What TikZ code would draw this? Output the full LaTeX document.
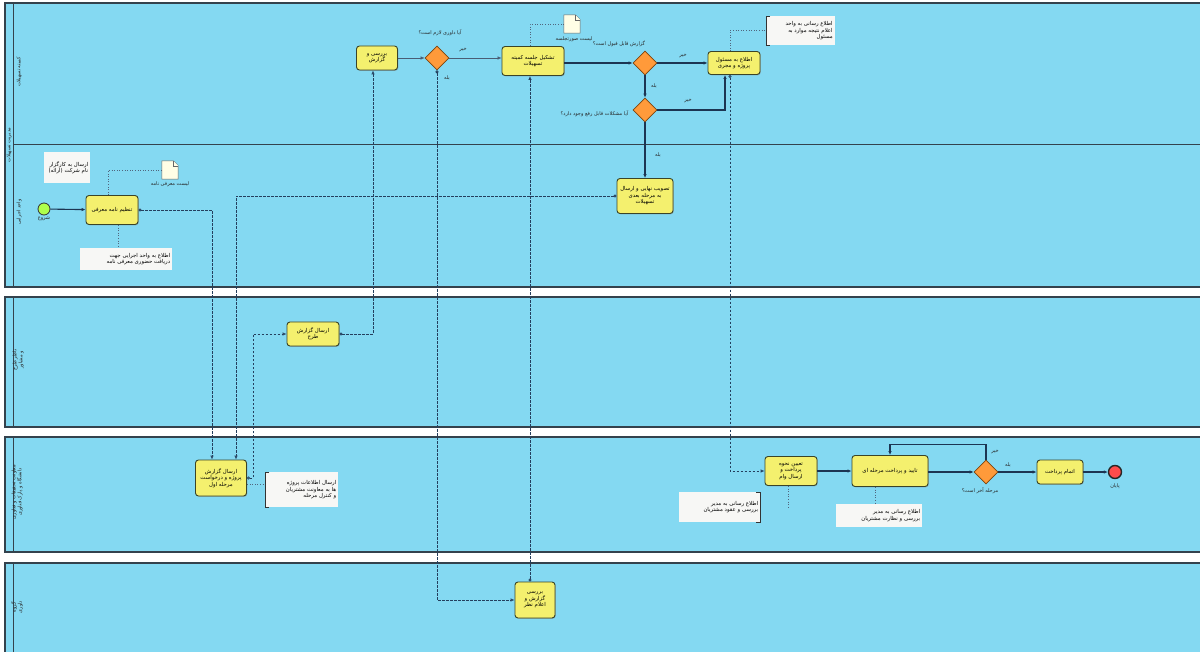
\documentclass[tikz,border=0pt]{standalone}
\usepackage{fontspec}
\newfontfamily\arabicfont[Script=Arabic]{DejaVu Sans}
\TeXXeTstate=1
\usetikzlibrary{arrows.meta,shapes.geometric,calc,shadows}
\newcommand{\fa}[1]{{\arabicfont\beginR #1\endR}}
\definecolor{lanefill}{HTML}{84D9F2}
\definecolor{poolborder}{HTML}{34424D}
\definecolor{taskfill}{HTML}{F4F06E}
\definecolor{taskborder}{HTML}{3A4428}
\definecolor{gwfill}{HTML}{FF9A3A}
\definecolor{gwborder}{HTML}{7A4410}
\definecolor{flowcol}{HTML}{1C3553}
\definecolor{msgcol}{HTML}{243F5E}
\definecolor{annfill}{HTML}{F7F7F5}
\begin{document}
\begin{tikzpicture}[x=1pt,y=-1pt,
  pool/.style={fill=lanefill, draw=poolborder, line width=1.1pt},
  task/.style={draw=taskborder, fill=taskfill, rounded corners=3pt, line width=0.9pt,
    align=center, inner sep=1pt, font=\fontsize{5.4}{6.4}\selectfont,
    drop shadow={shadow xshift=0.8pt, shadow yshift=-0.8pt, opacity=0.45}},
  gw/.style={diamond, aspect=1, minimum width=24pt, minimum height=24pt, inner sep=0pt,
    draw=gwborder, fill=gwfill, line width=0.8pt},
  lbl/.style={font=\fontsize{5}{6}\selectfont, inner sep=0.5pt, text=black!85, align=center},
  lanelbl/.style={font=\fontsize{5}{6}\selectfont, inner sep=0.5pt, rotate=90, align=center, text=black!85},
  ann/.style={fill=annfill, inner sep=1.5pt, align=right, font=\fontsize{5.4}{6.6}\selectfont},
  bracket/.style={draw=black!80, line width=0.8pt},
  docnode/.style={inner sep=0pt, minimum width=16pt, minimum height=18pt},
  docdraw/.style={draw=black!60, fill=yellow!10!white, line width=0.5pt},
  seq/.style={draw=flowcol, line width=1.1pt, -{Latex[length=4pt,width=3.5pt]}},
  seqthin/.style={draw=flowcol!80, line width=0.5pt, -{Latex[length=4pt,width=3.5pt]}},
  msg/.style={draw=msgcol, line width=0.75pt, dashed, dash pattern=on 2.5pt off 1.5pt,
    {Circle[open,length=3pt,width=3pt]}-{Latex[open,length=4pt,width=3.5pt]}},
  assoc/.style={draw=msgcol!80, line width=0.6pt, dotted}
]
\useasboundingbox (0,0) rectangle (1200,652);
\fill[white] (0,0) rectangle (1200,652);

% ---------- pools and lanes ----------
\draw[pool] (5,3) rectangle (1204,287);
\draw[poolborder, line width=1pt] (13,3) -- (13,287);
\draw[poolborder, line width=1pt] (13,145) -- (1204,145);
\draw[pool] (5,297) rectangle (1204,427);
\draw[poolborder, line width=1pt] (13,297) -- (13,427);
\draw[pool] (5,437) rectangle (1204,552);
\draw[poolborder, line width=1pt] (13,437) -- (13,552);
\draw[pool] (5,563) rectangle (1204,660);
\draw[poolborder, line width=1pt] (13,563) -- (13,660);

\node[lanelbl] (p1lbl) at (9,145) {\fa{مدیریت تسهیلات}};
\node[lanelbl] (l1lbl) at (19,72) {\fa{کمیته تسهیلات}};
\node[lanelbl] (l2lbl) at (19,212) {\fa{واحد اجرایی}};
\node[lanelbl] (p2lbl) at (18,360) {\fa{ناظر طرح}\\\fa{و مشاور}};
\node[lanelbl] (p3lbl) at (17,492) {\fa{معاونت تحقیقات و فناوری}\\\fa{دانشگاه و پارک فناوری}};
\node[lanelbl] (p4lbl) at (17,607) {\fa{گروه}\\\fa{داوری}};

% ---------- pool 1, lane 1 ----------
\node[task, minimum width=41pt, minimum height=24pt] (t1) at (377,58) {\fa{بررسی و}\\\fa{گزارش}};
\node[gw] (g1) at (437,58) {};
\node[lbl] (lg1) at (440,33) {\fa{آیا داوری لازم است؟}};
\node[task, minimum width=62pt, minimum height=29pt] (t2) at (533,61) {\fa{تشکیل جلسه کمیته}\\\fa{تسهیلات}};
\node[docnode] (doc1) at (572,24) {};
\draw[docdraw] (doc1.south west) -- (doc1.north west) -- ($(doc1.north east)+(-5,0)$)
  -- ($(doc1.north east)+(0,5)$) -- (doc1.south east) -- cycle;
\draw[docdraw] ($(doc1.north east)+(-5,0)$) -- ($(doc1.north east)+(-5,5)$) -- ($(doc1.north east)+(0,5)$);
\node[lbl] (ldoc1) at (574,39) {\fa{لیست صورتجلسه}};
\node[gw] (g2) at (645,63) {};
\node[lbl] (lg2) at (619,44) {\fa{گزارش قابل قبول است؟}};
\node[task, minimum width=52pt, minimum height=23pt] (t3) at (734,63) {\fa{اطلاع به مسئول}\\\fa{پروژه و مجری}};
\node[gw] (g3) at (645,110) {};
\node[lbl, anchor=east] (lg3) at (629,114) {\fa{آیا مشکلات قابل رفع وجود دارد؟}};
\node[ann, minimum width=69pt, minimum height=29pt, anchor=north west, text width=64pt] (ann1) at (766,16)
  {\fa{اطلاع رسانی به واحد}\\\fa{اعلام نتیجه موارد به}\\\fa{مسئول}};
\draw[bracket] ([xshift=4pt]ann1.north west) -- (ann1.north west) -- (ann1.south west) -- ([xshift=4pt]ann1.south west);

% ---------- pool 1, lane 2 ----------
\node[circle, draw=black!80, fill=green!45!yellow!70, line width=0.8pt, minimum size=12pt, inner sep=0pt] (start) at (44,209) {};
\node[lbl] (lstart) at (44,219) {\fa{شروع}};
\node[task, minimum width=52pt, minimum height=29pt] (t5) at (112,210) {\fa{تنظیم نامه معرفی}};
\node[ann, minimum width=46pt, minimum height=31pt, anchor=north west, text width=42pt] (annA) at (44,152)
  {\fa{ارسال به کارگزار}\\\fa{نام شرکت (ارائه)}};
\node[docnode] (doc2) at (170,170) {};
\draw[docdraw] (doc2.south west) -- (doc2.north west) -- ($(doc2.north east)+(-5,0)$)
  -- ($(doc2.north east)+(0,5)$) -- (doc2.south east) -- cycle;
\draw[docdraw] ($(doc2.north east)+(-5,0)$) -- ($(doc2.north east)+(-5,5)$) -- ($(doc2.north east)+(0,5)$);
\node[lbl] (ldoc2) at (170,184) {\fa{لیست معرفی نامه}};
\node[ann, minimum width=92pt, minimum height=22pt, anchor=north west, text width=88pt] (annB) at (80,248)
  {\fa{اطلاع به واحد اجرایی جهت}\\\fa{دریافت حضوری معرفی نامه}};
\node[task, minimum width=56pt, minimum height=35pt] (t4) at (645,196) {\fa{تصویب نهایی و ارسال}\\\fa{به مرحله بعدی}\\\fa{تسهیلات}};

% ---------- pool 2 ----------
\node[task, minimum width=52pt, minimum height=24pt] (t7) at (313,334) {\fa{ارسال گزارش}\\\fa{طرح}};

% ---------- pool 3 ----------
\node[task, minimum width=51pt, minimum height=36pt] (t6) at (221,478) {\fa{ارسال گزارش}\\\fa{پروژه و درخواست}\\\fa{مرحله اول}};
\node[ann, minimum width=73pt, minimum height=35pt, anchor=north west, text width=69pt] (annC) at (265,472)
  {\fa{ارسال اطلاعات پروژه}\\\fa{ها به معاونت مشتریان}\\\fa{و کنترل مرحله}};
\draw[bracket] ([xshift=4pt]annC.north west) -- (annC.north west) -- (annC.south west) -- ([xshift=4pt]annC.south west);
\node[task, minimum width=52pt, minimum height=29pt] (t8) at (791,471) {\fa{تعیین نحوه}\\\fa{پرداخت و}\\\fa{ارسال وام}};
\node[ann, minimum width=81pt, minimum height=30pt, anchor=north west, text width=77pt] (annD) at (679,492)
  {\fa{اطلاع رسانی به مدیر}\\\fa{بررسی و عقود مشتریان}};
\draw[bracket] ([xshift=-4pt]annD.north east) -- (annD.north east) -- (annD.south east) -- ([xshift=-4pt]annD.south east);
\node[task, minimum width=76pt, minimum height=31pt] (t9) at (890,471) {\fa{تایید و پرداخت مرحله ای}};
\node[ann, minimum width=86pt, minimum height=23pt, anchor=north west, text width=82pt] (annE) at (836,504)
  {\fa{اطلاع رسانی به مدیر}\\\fa{بررسی و نظارت مشتریان}};
\node[gw] (g4) at (986,472) {};
\node[lbl] (lg4) at (980,491) {\fa{مرحله آخر است؟}};
\node[task, minimum width=46pt, minimum height=24pt] (t10) at (1060,472) {\fa{اتمام پرداخت}};
\node[circle, draw=black!85, fill=red!60!pink, line width=1.4pt, minimum size=13pt, inner sep=0pt] (end) at (1115,472) {};
\node[lbl] (lend) at (1115,486) {\fa{پایان}};
\coordinate (tk) at (788,508);

% ---------- pool 4 ----------
\node[task, minimum width=40pt, minimum height=36pt] (t11) at (535,600) {\fa{بررسی}\\\fa{گزارش و}\\\fa{اعلام نظر}};

% ---------- sequence flows ----------
\draw[seq] (start) -- (t5);
\draw[seqthin] (t1.east |- g1) -- (g1.west);
\draw[seqthin] (g1.east) -- (g1.east -| t2.west);
\node[lbl] (lg1a) at (463,50) {\fa{خیر}};
\node[lbl] (lg1b) at (447,78) {\fa{بله}};
\draw[seq] (t2.east |- g2) -- (g2.west);
\draw[seq] (g2.east) -- (g2.east -| t3.west);
\node[lbl] (lg2a) at (683,56) {\fa{خیر}};
\draw[seq] (g2.south) -- (g3.north);
\node[lbl] (lg2b) at (654,86) {\fa{بله}};
\draw[seq] (g3.east) -| ([xshift=-9pt]t3.south);
\node[lbl] (lg3a) at (688,101) {\fa{خیر}};
\draw[seq] (g3.south) -- (t4.north);
\node[lbl] (lg3b) at (658,155) {\fa{بله}};
\draw[seq] (t8.east) -- (t9.west);
\draw[seq] (t9.east |- g4) -- (g4.west);
\draw[seq] (g4.east) -- (t10.west);
\node[lbl] (lg4a) at (1008,465) {\fa{بله}};
\draw[seq] (t10.east) -- (end.west);
\draw[seq] (g4.north) -- ++(0,-15) -| (t9.north);
\node[lbl] (lg4b) at (995,452) {\fa{خیر}};

% ---------- message flows ----------
\draw[msg] (t5.east) -| ([xshift=-9pt]t6.north);
\draw[msg] (t4.west) -| ([xshift=15pt]t6.north);
\draw[msg] (t6.east) -- ++(6,0) |- (t7.west);
\draw[msg] (t7.east) -| ([xshift=-4pt]t1.south);
\draw[msg] (g1.south) |- (t11.west);
\draw[msg] ([xshift=-5pt]t11.north) -- ([xshift=-3pt]t2.south);
\draw[msg] ([xshift=-4pt]t3.south) |- (t8.west);

% ---------- associations ----------
\draw[assoc] (doc1.west) -| ([xshift=-3pt]t2.north);
\draw[assoc] ([xshift=-4pt]t3.north) |- (ann1.west);
\draw[assoc] ([xshift=-4pt]t5.north) |- (doc2.west);
\draw[assoc] ([xshift=6pt]t5.south) -- ([xshift=6pt]t5.south |- annB.north);
\draw[assoc] ([yshift=-6pt]t6.east) -- ([yshift=-6pt]t6.east -| annC.west);
\draw[assoc] ([xshift=-15pt]t9.south) -- ([xshift=-15pt]t9.south |- annE.north);
\draw[assoc] ([xshift=-3pt]t8.south) -- (tk);
\end{tikzpicture}
\end{document}
